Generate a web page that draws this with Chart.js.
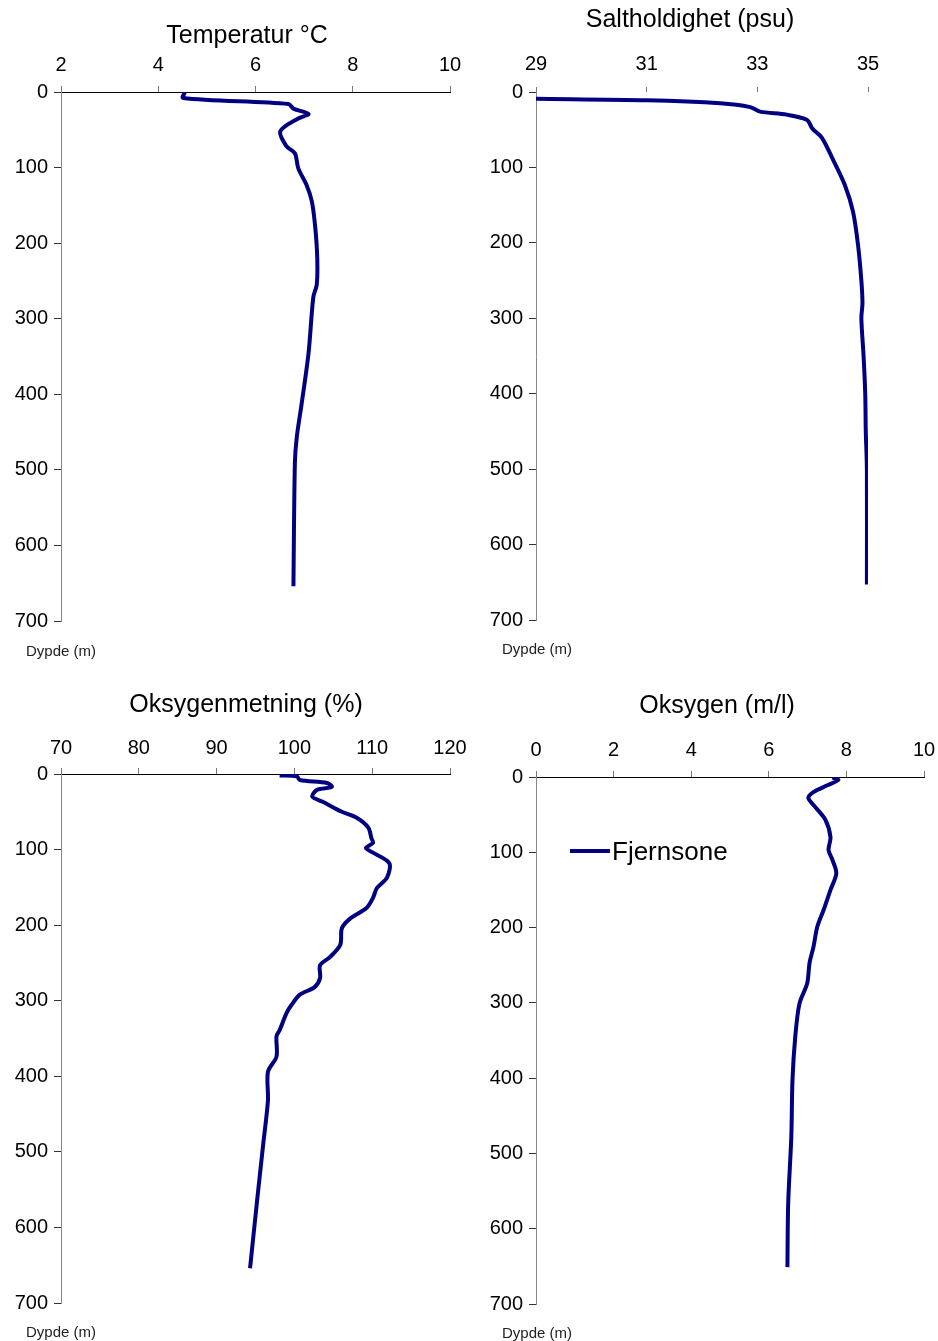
<!DOCTYPE html>
<html>
<head>
<meta charset="utf-8">
<script src="https://cdn.jsdelivr.net/npm/chart.js@4/dist/chart.umd.min.js"></script>
<style>
  body { margin: 0; background: #fff; }
  #wrap { position: relative; width: 938px; height: 1341px; }
  #wrap canvas { position: absolute; }
</style>
</head>
<body>
<div id="wrap">
  <canvas id="temp" width="469" height="670" style="left:0;top:0"></canvas>
  <canvas id="salt" width="469" height="670" style="left:469px;top:0"></canvas>
  <canvas id="metn" width="469" height="671" style="left:0;top:670px"></canvas>
  <canvas id="oksy" width="469" height="671" style="left:469px;top:670px"></canvas>
</div>
<script>
// values (depth in m)
const tempDepth = [0, 8, 16, 22, 29, 35, 52, 72, 81, 101, 123, 145, 180, 220, 255, 271, 346, 412, 456, 491, 654]
const tempValues = [4.55, 4.51, 6.68, 6.78, 7.09, 6.88, 6.51, 6.64, 6.81, 6.88, 7.05, 7.16, 7.23, 7.27, 7.26, 7.19, 7.09, 6.95, 6.85, 6.81, 6.78]

const saltDepth = [9, 11, 15, 20, 26, 30, 37, 48, 61, 87, 123, 159, 203, 250, 280, 300, 350, 400, 450, 500, 653]
const saltValues = [29.0, 31.0, 32.33, 32.87, 33.05, 33.53, 33.9, 33.99, 34.17, 34.35, 34.58, 34.73, 34.82, 34.88, 34.9, 34.88, 34.92, 34.95, 34.96, 34.98, 34.98]

const metnDepth = [2, 3, 8, 12, 17, 21, 30, 37, 50, 58, 71, 85, 91, 98, 104, 118, 137, 151, 164, 177, 191, 204, 226, 242, 253, 270, 282, 292, 306, 316, 339, 347, 374, 394, 432, 489, 565, 654]
const metnValues = [98.1, 100.3, 100.7, 104.2, 104.8, 102.9, 102.3, 103.7, 106.1, 108.0, 109.5, 109.9, 110.1, 109.2, 110.1, 112.2, 111.9, 110.6, 110.1, 109.3, 107.2, 106.1, 105.9, 104.6, 103.3, 103.3, 102.6, 100.7, 99.6, 99.0, 98.1, 97.7, 97.7, 96.6, 96.6, 96.0, 95.2, 94.3]

const oksyDepth = [1, 4, 11, 20, 28, 40, 57, 80, 97, 110, 128, 150, 177, 199, 226, 247, 274, 301, 346, 403, 478, 566, 651]
const oksyValues = [7.64, 7.79, 7.51, 7.15, 7.02, 7.2, 7.46, 7.59, 7.54, 7.64, 7.74, 7.59, 7.41, 7.25, 7.15, 7.05, 6.99, 6.79, 6.68, 6.61, 6.58, 6.5, 6.48]

const depthTicks = [0, 100, 200, 300, 400, 500, 600, 700]
const seriesName = 'Fjernsone'
const lineColor = '#000080'

Chart.defaults.font.family = '"Liberation Sans", Arial, sans-serif'
Chart.defaults.color = '#000'

// titles, depth label and the legend are drawn here
const panelText = {
  id: 'panelText',
  afterDraw(chart, args, opts) {
    const ctx = chart.ctx
    ctx.save()
    ctx.fillStyle = '#000'
    ctx.textBaseline = 'alphabetic'
    ctx.textAlign = 'center'
    ctx.font = '25px "Liberation Sans", Arial, sans-serif'
    ctx.fillText(opts.title, opts.titleX, opts.titleY)

    ctx.textAlign = 'left'
    ctx.fillStyle = '#222'
    ctx.font = '15px "Liberation Sans", Arial, sans-serif'
    ctx.fillText('Dypde (m)', opts.depthX, opts.depthY)

    if (opts.legend) {
      const ds = chart.data.datasets[0]
      const a = chart.chartArea
      const lx = a.left + 34, ly = a.top + 74
      ctx.strokeStyle = ds.borderColor
      ctx.lineWidth = 4
      ctx.beginPath()
      ctx.moveTo(lx, ly)
      ctx.lineTo(lx + 40, ly)
      ctx.stroke()
      ctx.fillStyle = '#000'
      ctx.font = '26px "Liberation Sans", Arial, sans-serif'
      ctx.fillText(ds.label, lx + 42, ly + 9)
    }
    ctx.restore()
  }
}

// fixed axis box, no extra room for overflowing labels
function fixBox(s, w, h) {
  if (w) s.width = w
  if (h) s.height = h
  s.paddingLeft = 0
  s.paddingRight = 0
  s.paddingTop = 0
  s.paddingBottom = 0
}

function makeChart(id, depth, values, p) {
  const points = depth.map((d, i) => ({ x: values[i], y: d }))

  const config = {
    type: 'scatter',
    data: {
      datasets: [{
        label: seriesName,
        data: points,
        showLine: true,
        borderColor: lineColor,
        borderWidth: 4,
        pointRadius: 0,
        tension: 0.3
      }]
    },
    options: {
      responsive: false,
      animation: false,
      layout: { autoPadding: false, padding: { left: 0, top: 0, right: p.padRight, bottom: p.padBottom } },
      plugins: {
        legend: { display: false },
        tooltip: { enabled: false },
        panelText: p.text
      },
      scales: {
        x: {
          position: 'top',
          min: p.xMin, max: p.xMax,
          afterFit: s => fixBox(s, 0, p.xHeight),
          afterBuildTicks: s => { s.ticks = p.xTicks.map(v => ({ value: v })) },
          ticks: { font: { size: 20 }, padding: p.xPad, maxRotation: 0 },
          grid: { drawOnChartArea: false, tickLength: p.xTick, color: '#777' },
          border: { display: p.xBorder, color: '#000', width: 1 }
        },
        y: {
          reverse: true,
          min: 0, max: 700,
          afterFit: s => fixBox(s, p.yWidth, 0),
          afterBuildTicks: s => { s.ticks = depthTicks.map(v => ({ value: v })) },
          ticks: { font: { size: 20 }, padding: p.yPad },
          grid: { drawOnChartArea: false, tickLength: 7, color: '#333' },
          border: { display: true, color: '#888', width: 1 }
        }
      }
    },
    plugins: [panelText]
  }

  return new Chart(document.getElementById(id), config)
}

makeChart('temp', tempDepth, tempValues, {
  xMin: 2, xMax: 10, xTicks: [2, 4, 6, 8, 10],
  padRight: 19, padBottom: 49, xHeight: 92, yWidth: 61,
  xPad: 9, xTick: 6, yPad: 6, xBorder: true,
  text: { title: 'Temperatur °C', titleX: 247, titleY: 43, depthX: 26, depthY: 656 }
})

makeChart('salt', saltDepth, saltValues, {
  xMin: 29, xMax: 35, xTicks: [29, 31, 33, 35],
  padRight: 70, padBottom: 50, xHeight: 92, yWidth: 67,
  xPad: 11, xTick: 5, yPad: 6, xBorder: false,
  text: { title: 'Saltholdighet (psu)', titleX: 221, titleY: 27, depthX: 33, depthY: 654 }
})

makeChart('metn', metnDepth, metnValues, {
  xMin: 70, xMax: 120, xTicks: [70, 80, 90, 100, 110, 120],
  padRight: 19, padBottom: 38, xHeight: 104, yWidth: 61,
  xPad: 8, xTick: 6, yPad: 6, xBorder: true,
  text: { title: 'Oksygenmetning (%)', titleX: 246, titleY: 42, depthX: 26, depthY: 667 }
})

makeChart('oksy', oksyDepth, oksyValues, {
  xMin: 0, xMax: 10, xTicks: [0, 2, 4, 6, 8, 10],
  padRight: 14, padBottom: 37, xHeight: 107, yWidth: 67,
  xPad: 9, xTick: 6, yPad: 6, xBorder: true,
  text: { title: 'Oksygen (m/l)', titleX: 248, titleY: 43, depthX: 33, depthY: 668, legend: true }
})
</script>
</body>
</html>
